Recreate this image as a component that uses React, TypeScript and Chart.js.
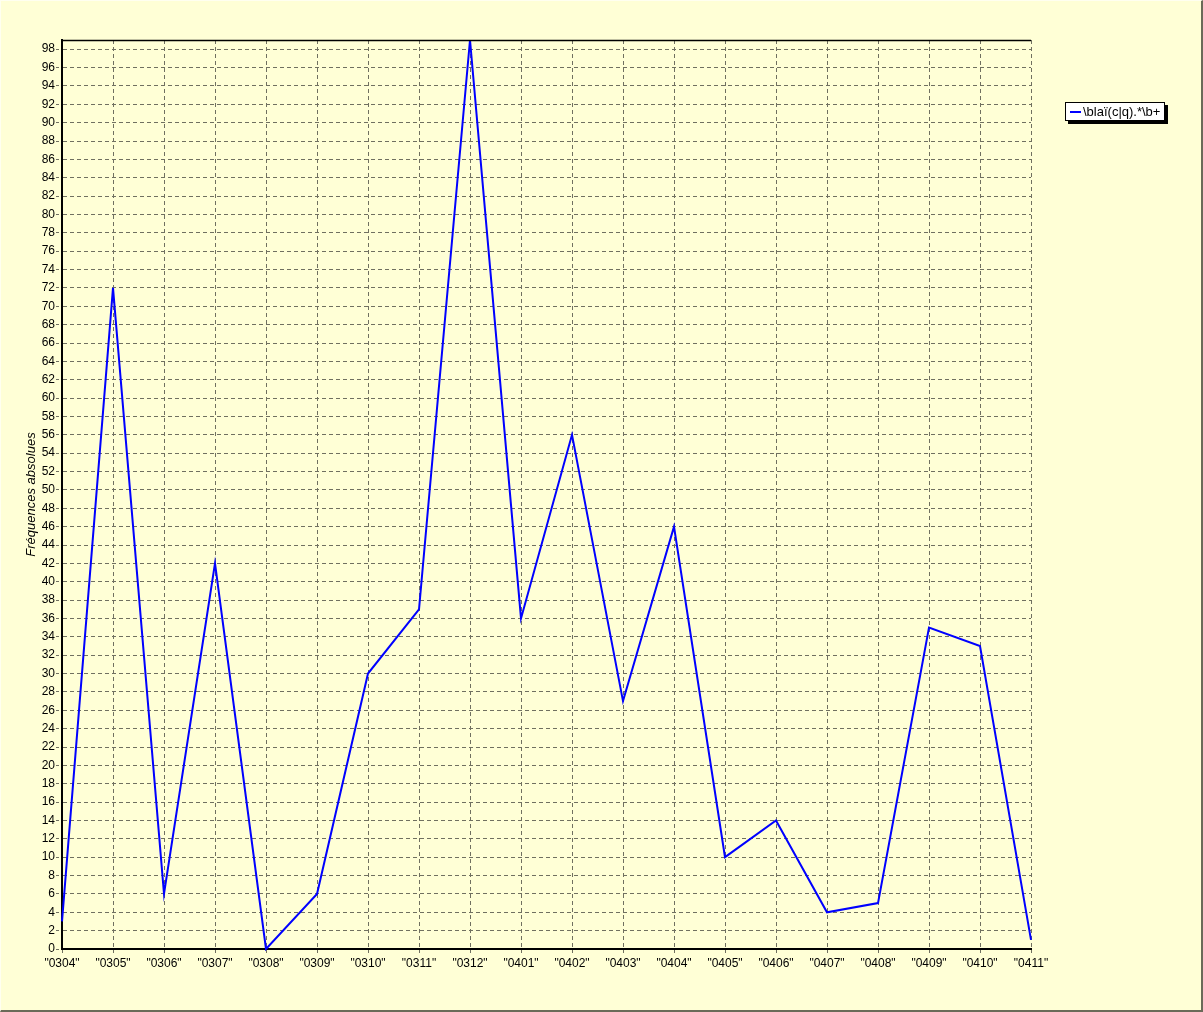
import React, { useEffect, useRef } from "react";
import { Chart, registerables } from "chart.js";

Chart.register(...registerables);

const categories = ['"0304"', '"0305"', '"0306"', '"0307"', '"0308"', '"0309"', '"0310"', '"0311"', '"0312"', '"0401"', '"0402"', '"0403"', '"0404"', '"0405"', '"0406"', '"0407"', '"0408"', '"0409"', '"0410"', '"0411"'];
const seriesValues = [3, 72, 6, 42, 0, 6, 30, 37, 99, 36, 56, 27, 46, 10, 14, 4, 5, 35, 33, 1];
const seriesLabel = "\\blaï(c|q).*\\b+";
const yTitle = "Fréquences absolues";
const yMin = 0;
const yMax = 99;
const yStep = 2;

const W = 1203;
const H = 1012;
const AREA = { left: 62, right: 1031, top: 40, bottom: 949 };
const BG = "#FFFFD6";
const GRID = "#707060";
const FONT = "'Liberation Sans', Arial, sans-serif";

export default function App() {
  const ref = useRef<HTMLCanvasElement | null>(null);

  useEffect(() => {
    document.body.style.margin = "0";
    const canvas = ref.current;
    if (!canvas) return;

    const topBorder = {
      id: "topBorder",
      afterDraw(chart: any) {
        const { ctx, chartArea } = chart;
        ctx.save();
        ctx.strokeStyle = "#000";
        ctx.lineWidth = 1.5;
        ctx.beginPath();
        ctx.moveTo(chartArea.left, chartArea.top + 0.5);
        ctx.lineTo(chartArea.right, chartArea.top + 0.5);
        ctx.stroke();
        ctx.restore();
      },
    };

    const chart = new Chart(canvas, {
      type: "line",
      data: {
        labels: categories,
        datasets: [
          {
            label: seriesLabel,
            data: seriesValues,
            borderColor: "#0000FF",
            backgroundColor: "#0000FF",
            borderWidth: 2,
            pointRadius: 0,
            tension: 0,
            clip: 4,
          },
        ],
      },
      options: {
        animation: false,
        responsive: false,
        maintainAspectRatio: false,
        layout: {
          padding: { left: 0, top: AREA.top, right: W - AREA.right, bottom: 0 },
        },
        plugins: {
          legend: { display: false },
          tooltip: { enabled: false },
        },
        scales: {
          x: {
            type: "category",
            offset: false,
            grid: {
              display: true,
              color: GRID,
              lineWidth: 1,
              tickLength: 5,
              drawTicks: true,
              tickColor: GRID,
              tickBorderDash: [3, 2],
            },
            border: { display: true, color: "#000", width: 2, dash: [4, 3] },
            ticks: {
              color: "#000",
              font: { family: FONT, size: 12 },
              padding: 2,
              maxRotation: 0,
              minRotation: 0,
              autoSkip: false,
            },
            afterFit(scale: any) {
              scale.height = H - AREA.bottom;
            },
          },
          y: {
            type: "linear",
            min: yMin,
            max: yMax,
            grid: {
              display: true,
              color: GRID,
              lineWidth: 1,
              tickLength: 6,
              tickColor: GRID,
              tickBorderDash: [3, 2],
            },
            border: { display: true, color: "#000", width: 2, dash: [4, 3] },
            ticks: {
              stepSize: yStep,
              includeBounds: false,
              color: "#000",
              font: { family: FONT, size: 12 },
              padding: 1,
              autoSkip: false,
            },
            title: {
              display: true,
              text: yTitle,
              color: "#000",
              font: { family: FONT, size: 13, style: "italic" },
              padding: { top: 24, bottom: 0 },
            },
            afterFit(scale: any) {
              scale.width = AREA.left;
            },
          },
        },
      },
      plugins: [topBorder],
    } as any);

    return () => chart.destroy();
  }, []);

  return (
    <div
      style={{
        position: "fixed",
        left: 0,
        top: 0,
        width: W,
        height: H,
        background: BG,
        boxSizing: "border-box",
        borderTop: "1px solid #fffff0",
        borderLeft: "1px solid #fffff0",
        borderRight: "2px solid #6a6a58",
        borderBottom: "2px solid #6a6a58",
        overflow: "hidden",
      }}
    >
      <canvas
        ref={ref}
        width={W}
        height={H}
        style={{ position: "absolute", left: -1, top: -1, width: W, height: H }}
      />
      <div
        style={{
          position: "absolute",
          left: 1064,
          top: 101,
          width: 98,
          height: 17,
          background: "#fff",
          border: "1px solid #000",
          boxShadow: "3px 3px 0 #000",
          fontFamily: FONT,
          fontSize: 13,
          color: "#000",
          display: "flex",
          alignItems: "center",
          whiteSpace: "nowrap",
          overflow: "hidden",
        }}
      >
        <span
          style={{
            display: "inline-block",
            width: 11,
            height: 2,
            background: "#0000FF",
            marginLeft: 4,
            marginRight: 2,
            flexShrink: 0,
          }}
        />
        <span>{seriesLabel}</span>
      </div>
    </div>
  );
}
